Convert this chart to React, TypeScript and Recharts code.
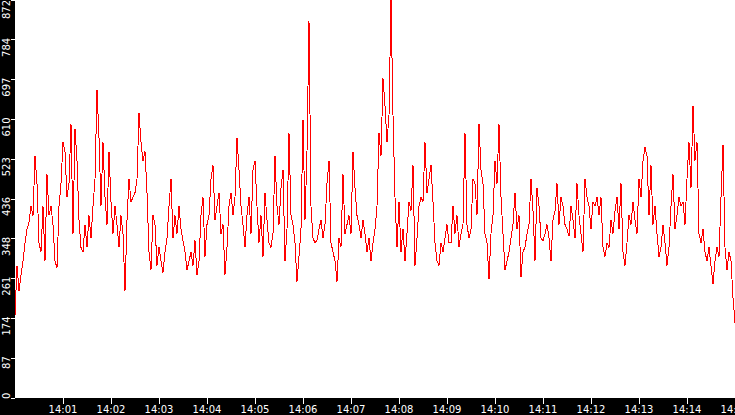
import { LineChart, Line, XAxis, YAxis, CartesianGrid } from 'recharts'

// one reading every 2.5 s, starting at 14:00:00
const SAMPLE_SECONDS = 2.5

const READINGS = [
  180, 290, 235, 270, 300, 340, 370, 385, 420, 400, 530, 470, 340, 320, 420, 300, 490, 400, 420, 380,
  300, 285, 420, 470, 560, 540, 440, 470, 600, 360, 590, 520, 390, 330, 320, 380, 330, 400, 350, 420,
  480, 675, 570, 420, 560, 440, 380, 540, 430, 360, 420, 380, 330, 400, 360, 235, 390, 480, 430, 440,
  450, 480, 625, 560, 520, 540, 450, 320, 280, 400, 380, 290, 330, 300, 275, 320, 350, 420, 480, 350,
  400, 360, 420, 370, 345, 320, 280, 300, 320, 290, 345, 270, 300, 400, 440, 310, 380, 400, 480, 510,
  390, 420, 450, 360, 380, 270, 330, 420, 450, 400, 440, 570, 500, 420, 380, 330, 400, 440, 360, 500,
  520, 420, 340, 400, 310, 450, 390, 340, 330, 360, 530, 420, 380, 460, 500, 300, 370, 580, 400, 380,
  340, 255, 310, 370, 610, 390, 540, 825, 420, 350, 340, 345, 370, 390, 350, 380, 470, 520, 340, 320,
  300, 255, 350, 330, 490, 360, 380, 400, 360, 540, 460, 400, 380, 350, 390, 360, 320, 350, 300, 340,
  370, 420, 580, 530, 700, 640, 560, 620, 872, 620, 440, 330, 430, 320, 370, 300, 360, 430, 410, 510,
  290, 350, 420, 440, 430, 560, 450, 480, 510, 430, 340, 300, 290, 340, 320, 350, 380, 340, 340, 420,
  360, 400, 330, 360, 380, 580, 380, 350, 370, 480, 470, 400, 600, 500, 470, 360, 340, 260, 360, 400,
  520, 470, 600, 440, 360, 280, 300, 320, 350, 380, 450, 370, 400, 265, 320, 330, 360, 380, 480, 410,
  300, 460, 420, 350, 345, 360, 380, 350, 300, 390, 410, 470, 380, 440, 420, 380, 370, 355, 420, 390,
  350, 470, 400, 360, 320, 480, 440, 420, 370, 430, 420, 440, 400, 440, 330, 310, 340, 330, 390, 360,
  410, 440, 370, 470, 320, 290, 340, 400, 380, 430, 390, 360, 480, 440, 520, 550, 530, 400, 510, 380,
  420, 360, 310, 330, 380, 340, 290, 330, 420, 490, 370, 400, 440, 420, 430, 380, 480, 560, 460, 640,
  520, 560, 360, 340, 370, 320, 300, 330, 290, 250, 300, 330, 310, 440, 555, 330, 280, 320, 300, 220,
  165,
]

const X_TICKS = [60, 120, 180, 240, 300, 360, 420, 480, 540, 600, 660, 720, 780, 840, 900]
const X_TICK_LABELS = [
  '14:01', '14:02', '14:03', '14:04', '14:05', '14:06', '14:07', '14:08',
  '14:09', '14:10', '14:11', '14:12', '14:13', '14:14', '14:15',
]
const Y_TICKS = [0, 87.2, 174.4, 261.6, 348.8, 436, 523.2, 610.4, 697.6, 784.8, 872]
const Y_TICK_LABELS = ['0', '87', '174', '261', '348', '436', '523', '610', '697', '784', '872']

const W = 735
const H = 415
const Y_AXIS_W = 15
const X_AXIS_H = 17
const PLOT_BOTTOM = H - X_AXIS_H
const FONT = '"DejaVu Sans", sans-serif'

const data = READINGS.map((v, i) => ({ t: i * SAMPLE_SECONDS, v }))

interface TickProps {
  x?: number
  y?: number
  payload?: { value: number }
}

function YTick({ y = 0, payload }: TickProps) {
  if (!payload) return null
  const label = Y_TICK_LABELS[Y_TICKS.indexOf(payload.value)] ?? ''
  const len = label.length * 5.5
  // rotated text runs upward; keep it inside the plot height
  const end = Math.min(Math.max(y - 2, 0), PLOT_BOTTOM - len)
  return (
    <g>
      <line x1={Y_AXIS_W - 4} x2={Y_AXIS_W} y1={y} y2={y} stroke="#fff" />
      <text
        x={10} y={end}
        transform={`rotate(-90 10 ${end})`}
        textAnchor="end"
        fill="#fff"
        fontSize={10}
        fontFamily={FONT}
      >
        {label}
      </text>
    </g>
  )
}

function XTick({ x = 0, payload }: TickProps) {
  if (!payload) return null
  const label = X_TICK_LABELS[X_TICKS.indexOf(payload.value)] ?? ''
  return (
    <g>
      <line x1={x} x2={x} y1={PLOT_BOTTOM} y2={PLOT_BOTTOM + 6} stroke="#fff" />
      <text x={x} y={H - 2} textAnchor="middle" fill="#fff" fontSize={10} fontFamily={FONT}>
        {label}
      </text>
    </g>
  )
}

export default function App() {
  return (
    <div
      style={{
        position: 'absolute', left: 0, top: 0,
        width: W, height: H, background: '#000', overflow: 'hidden',
      }}
    >
      <LineChart
        width={W}
        height={H}
        data={data}
        margin={{ top: 0, right: 0, bottom: 0, left: 0 }}
        style={{ shapeRendering: 'crispEdges' }}
      >
        <CartesianGrid horizontal={false} vertical={false} fill="#fff" stroke="none" />
        <XAxis
          dataKey="t"
          type="number"
          domain={[0, 900]}
          ticks={X_TICKS}
          interval={0}
          axisLine={false}
          tickLine={false}
          height={X_AXIS_H}
          tick={(p: object) => <XTick {...(p as TickProps)} />}
        />
        <YAxis
          type="number"
          domain={[0, 872]}
          ticks={Y_TICKS}
          interval={0}
          axisLine={false}
          tickLine={false}
          width={Y_AXIS_W}
          tick={(p: object) => <YTick {...(p as TickProps)} />}
        />
        <Line
          dataKey="v"
          type="linear"
          stroke="#ff0000"
          strokeWidth={1}
          dot={false}
          activeDot={false}
          isAnimationActive={false}
        />
      </LineChart>
    </div>
  )
}
